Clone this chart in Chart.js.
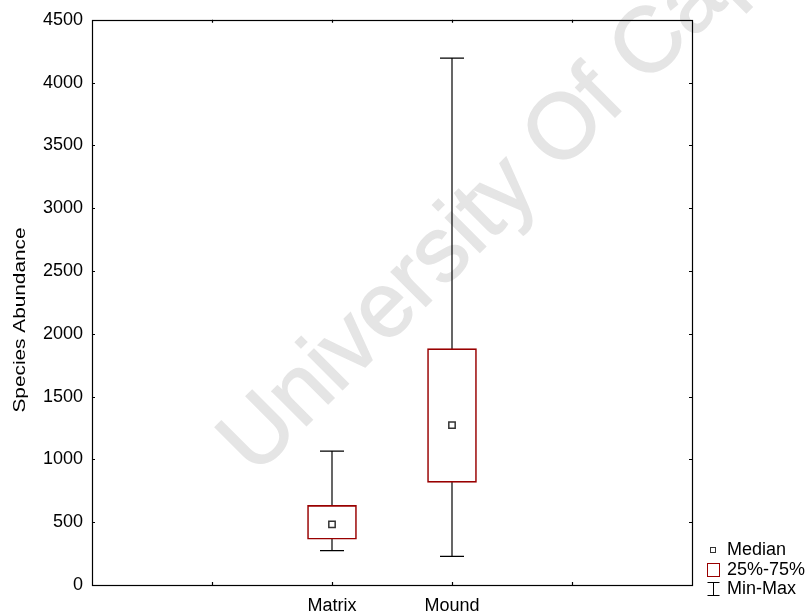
<!DOCTYPE html>
<html>
<head>
<meta charset="utf-8">
<script src="https://cdn.jsdelivr.net/npm/chart.js@4/dist/chart.umd.min.js"></script>
<style>
  html, body { margin: 0; padding: 0; background: #fff; }
  #wrap { width: 808px; height: 612px; }
</style>
</head>
<body>
<div id="wrap"><canvas id="box-chart" width="808" height="612"></canvas></div>
<script>
// values
const xLabels = ["", "", "Matrix", "Mound", "", ""];
const groups = ["Matrix", "Mound"];
const mins = [274, 228];
const q1s = [364, 817];
const medians = [483, 1273];
const q3s = [634, 1882];
const maxes = [1066, 4195];
const yTicks = [0, 500, 1000, 1500, 2000, 2500, 3000, 3500, 4000, 4500];
const yTitle = "Species Abundance";
const legendItems = ["Median", "25%-75%", "Min-Max"];
const watermark = "University Of Cape Town";

const FONT = "'Liberation Sans', Arial, sans-serif";
const BOX_RED = "#990000";

document.addEventListener("DOMContentLoaded", function () {
    const datasets = [];

    // median markers on top
    datasets.push({
        type: "line",
        label: "Median",
        data: groups.map((g, i) => ({ x: g, y: medians[i] })),
        showLine: false,
        pointStyle: "rect",
        pointRadius: 4.5,
        pointBorderWidth: 1.5,
        pointBorderColor: "#333333",
        pointBackgroundColor: "#ffffff",
        order: 0
    });

    // whisker caps
    const caps = [];
    groups.forEach((g, i) => {
        caps.push({ x: g, y: mins[i] });
        caps.push({ x: g, y: maxes[i] });
    });
    datasets.push({
        type: "line",
        label: "caps",
        data: caps,
        showLine: false,
        pointStyle: "line",
        pointRadius: 12,
        pointBorderWidth: 1.3,
        pointBorderColor: "#000000",
        order: 1
    });

    // 25%-75% boxes
    datasets.push({
        type: "bar",
        label: "25%-75%",
        data: groups.map((g, i) => ({ x: g, y: [q1s[i], q3s[i]] })),
        backgroundColor: "#ffffff",
        borderColor: BOX_RED,
        borderWidth: 1.6,
        borderSkipped: false,
        barThickness: 49,
        grouped: false,
        order: 2
    });

    // whisker stems, one per group
    groups.forEach((g, i) => {
        datasets.push({
            type: "line",
            label: "stem " + g,
            data: [{ x: g, y: mins[i] }, { x: g, y: maxes[i] }],
            borderColor: "#000000",
            borderWidth: 1.2,
            pointRadius: 0,
            order: 3
        });
    });

    const frame = {
        id: "frame",
        beforeDatasetsDraw(chart) {
            const ctx = chart.ctx;
            ctx.save();
            ctx.translate(255, 477);
            ctx.rotate(-45 * Math.PI / 180);
            ctx.font = "92px " + FONT;
            ctx.fillStyle = "#e5e5e5";
            ctx.strokeStyle = "#e5e5e5";
            ctx.lineWidth = 1.5;
            ctx.textBaseline = "alphabetic";
            ctx.fillText(watermark, 0, 0);
            ctx.strokeText(watermark, 0, 0);
            ctx.restore();
        },
        afterDraw(chart) {
            const ctx = chart.ctx;
            const a = chart.chartArea;
            const xs = chart.scales.x;
            const ys = chart.scales.y;
            ctx.save();
            ctx.strokeStyle = "#000000";
            ctx.lineWidth = 1.2;
            ctx.strokeRect(Math.round(a.left) + 0.5, Math.round(a.top) + 0.5,
                Math.round(a.right - a.left), Math.round(a.bottom - a.top));

            // inward tick marks on all four sides
            ctx.beginPath();
            yTicks.forEach(v => {
                const py = Math.round(ys.getPixelForValue(v)) + 0.5;
                ctx.moveTo(a.left, py); ctx.lineTo(a.left + 3, py);
                ctx.moveTo(a.right, py); ctx.lineTo(a.right - 3, py);
            });
            for (let i = 1; i < xLabels.length - 1; i++) {
                const px = Math.round(xs.getPixelForValue(i)) + 0.5;
                ctx.moveTo(px, a.bottom); ctx.lineTo(px, a.bottom - 3);
                ctx.moveTo(px, a.top); ctx.lineTo(px, a.top + 3);
            }
            ctx.stroke();

            // y axis title, a little below the middle as in the source
            ctx.save();
            ctx.translate(25, 320);
            ctx.rotate(-Math.PI / 2);
            ctx.font = "17px " + FONT;
            const w = ctx.measureText(yTitle).width;
            ctx.scale(185 / w, 1);
            ctx.fillStyle = "#000000";
            ctx.textAlign = "center";
            ctx.textBaseline = "alphabetic";
            ctx.fillText(yTitle, 0, 0);
            ctx.restore();

            // legend, bottom right
            const lx = a.right + 21;
            const tx = a.right + 35;
            const rows = [a.bottom - 35, a.bottom - 15, a.bottom + 4];
            ctx.font = "18px " + FONT;
            ctx.fillStyle = "#000000";
            ctx.textBaseline = "middle";
            ctx.textAlign = "left";
            legendItems.forEach((t, i) => ctx.fillText(t, tx, rows[i]));

            ctx.lineWidth = 1;
            ctx.strokeStyle = "#333333";
            ctx.strokeRect(Math.round(lx) - 2.5, Math.round(rows[0]) - 2.5, 5, 5);

            ctx.strokeStyle = BOX_RED;
            ctx.strokeRect(Math.round(lx) - 5.5, Math.round(rows[1]) - 6.5, 12, 13);

            ctx.strokeStyle = "#000000";
            ctx.beginPath();
            const cx = Math.round(lx) + 0.5;
            const top = Math.round(rows[2]) - 6.5;
            const bot = Math.round(rows[2]) + 6.5;
            ctx.moveTo(cx, top); ctx.lineTo(cx, bot);
            ctx.moveTo(cx - 6, top); ctx.lineTo(cx + 6, top);
            ctx.moveTo(cx - 6, bot); ctx.lineTo(cx + 6, bot);
            ctx.stroke();
            ctx.restore();
        }
    };

    new Chart(document.getElementById("box-chart").getContext("2d"), {
        data: { labels: xLabels, datasets: datasets },
        options: {
            responsive: false,
            animation: false,
            events: [],
            layout: { padding: { left: 0, top: 19, right: 116, bottom: 0 } },
            plugins: {
                legend: { display: false },
                tooltip: { enabled: false }
            },
            scales: {
                x: {
                    type: "category",
                    offset: false,
                    grid: { display: false, drawTicks: false },
                    border: { display: false },
                    ticks: {
                        autoSkip: false,
                        maxRotation: 0,
                        padding: 10,
                        color: "#000000",
                        font: { family: FONT, size: 18 }
                    },
                    afterFit: s => { s.height = 27; }
                },
                y: {
                    min: 0,
                    max: 4500,
                    grid: { display: false, drawTicks: false },
                    border: { display: false },
                    afterBuildTicks: s => { s.ticks = yTicks.map(v => ({ value: v })); },
                    ticks: {
                        padding: 9,
                        color: "#000000",
                        font: { family: FONT, size: 18 },
                        callback: v => String(v)
                    },
                    afterFit: s => { s.width = 92; }
                }
            }
        },
        plugins: [frame]
    });
});
</script>
</body>
</html>
